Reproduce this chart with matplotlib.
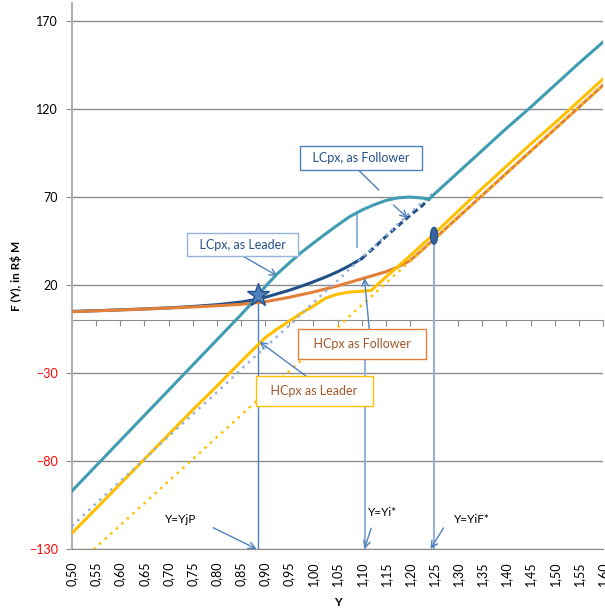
import matplotlib
matplotlib.use('Agg')
import matplotlib.pyplot as plt
from matplotlib.patches import Ellipse
from matplotlib.ticker import FuncFormatter

plt.rcParams['font.family'] = ['Lato', 'DejaVu Sans']

# Category ticks on the horizontal axis
y_ticks = [0.50, 0.55, 0.60, 0.65, 0.70, 0.75, 0.80, 0.85, 0.90, 0.95, 1.00, 1.05,
           1.10, 1.15, 1.20, 1.25, 1.30, 1.35, 1.40, 1.45, 1.50, 1.55, 1.60]

# Values
y_lc_leader = [0.50, 0.55, 0.60, 0.65, 0.70, 0.75, 0.80, 0.85, 0.875, 0.90, 0.925,
               0.95, 0.975, 1.00, 1.025, 1.05, 1.075, 1.10, 1.125, 1.15, 1.175,
               1.20, 1.225, 1.24, 1.25, 1.30, 1.35, 1.40, 1.45, 1.50, 1.55, 1.60]
lc_leader = [-97, -82.7, -68.4, -54.1, -39.8, -25.5, -11.2, 3.1, 10.5, 19, 26.3,
             32.5, 38.5, 43.8, 49, 54, 58.8, 62.5, 65.5, 68, 69.5,
             70, 69.4, 68.8, 71.5, 84, 96.5, 109, 121, 133.5, 146, 158]

y_lc_follower = [0.50, 0.55, 0.60, 0.65, 0.70, 0.75, 0.80, 0.85, 0.875, 0.90, 0.925,
                 0.95, 0.975, 1.00, 1.025, 1.05, 1.075, 1.10]
lc_follower = [5.0, 5.4, 5.9, 6.4, 7.0, 7.8, 8.8, 10.3, 11.5, 13.0, 15.0,
               17.0, 19.3, 21.8, 24.5, 27.5, 31.0, 35.0]
y_lc_follower_tail = [1.10, 1.125, 1.15, 1.175, 1.20, 1.225, 1.24]
lc_follower_tail = [35.0, 41.0, 47.5, 53.5, 59.5, 65.0, 68.8]

y_lc_npv = [0.50, 0.55, 0.60, 0.65, 0.70, 0.75, 0.80, 0.85, 0.90, 0.95, 1.00, 1.05,
            1.10, 1.15, 1.20, 1.25]
lc_npv = [-117, -104, -91.5, -79, -66, -53.5, -41, -28, -15.5, -3, 10, 22.5,
          35.5, 48, 61, 72.5]

hc_npv = [-142, -129, -116.5, -104, -91.5, -79, -66.5, -54, -41.5, -29, -16.5, -4,
          8.5, 21, 33.5, 46, 58.5, 71, 83.5, 96, 108.5, 121, 133.5]

y_hc_follower = [0.50, 0.55, 0.60, 0.65, 0.70, 0.75, 0.80, 0.85, 0.90, 0.95, 1.00,
                 1.05, 1.10, 1.15, 1.175, 1.20, 1.225, 1.25, 1.30, 1.35, 1.40, 1.45,
                 1.50, 1.55, 1.60]
hc_follower = [4.8, 5.3, 5.8, 6.3, 6.9, 7.5, 8.2, 9.0, 10.5, 13.0, 16.0,
               19.5, 23.5, 27.5, 30.2, 33.8, 39.8, 46, 58.5, 71, 83.5, 96,
               108.5, 121, 133.5]

y_hc_leader = [0.50, 0.55, 0.60, 0.65, 0.70, 0.75, 0.80, 0.85, 0.90, 0.925, 0.95,
               0.975, 1.00, 1.025, 1.05, 1.075, 1.10, 1.12, 1.15, 1.20, 1.25, 1.30,
               1.35, 1.40, 1.45, 1.50, 1.55, 1.60]
hc_leader = [-121, -107, -93, -79, -65, -51, -37.5, -23.5, -10, -5, -0.5,
             4, 8, 12.5, 14.8, 16, 16.4, 17, 24.5, 36.5, 49, 62,
             75, 87.5, 100, 112, 124.5, 137]

# Thresholds
yjp, yjp_val = 0.8845, 14.5
yi_star = 1.106
yif, yif_val = 1.25, 48

teal = '#3F9CB3'
navy = '#24508A'
light_blue = '#95B3D7'
orange = '#E2803A'
yellow = '#FFC000'
steel = '#4F81BD'
brown = '#A0582A'
grid_c = '#8C8C8C'

fig = plt.figure(figsize=(6.05, 6.09), dpi=100)
ax = fig.add_axes([72 / 605, 60 / 609, 531 / 605, 545.6 / 609])
ymin, ymax = -130, 180
ax.set_xlim(0.5, 1.6)
ax.set_ylim(ymin, ymax)

# Series
ax.plot(y_lc_follower, lc_follower, color=navy, lw=2.2, zorder=3)
ax.plot(y_lc_follower_tail, lc_follower_tail, color=navy, lw=2.2,
        ls=(0, (2, 1.2)), zorder=3)
ax.plot(y_hc_follower, hc_follower, color=orange, lw=2.2, zorder=4)
ax.plot(y_hc_leader, hc_leader, color=yellow, lw=2.2, zorder=5)
ax.plot(y_ticks, hc_npv, color=yellow, lw=1.8, ls=(0, (1, 2)), zorder=6)
ax.plot(y_lc_npv, lc_npv, color=light_blue, lw=1.8, ls=(0, (1, 2)), zorder=6)
ax.plot(y_lc_leader, lc_leader, color=teal, lw=2.2, zorder=7)

# Threshold lines and markers
ax.plot([yjp, yjp], [ymin, yjp_val], color=steel, lw=1, zorder=2)
ax.plot([yi_star, yi_star], [ymin, -21.5], color=light_blue, lw=1.5, zorder=2)
ax.plot([yif, yif], [ymin, yif_val], color=light_blue, lw=1.5, zorder=2)
ax.plot([1.0913, 1.0913], [41.8, 61.6], color=light_blue, lw=1.5, zorder=2)
ax.plot(yjp, yjp_val, marker='*', ms=17, mfc=steel, mec=navy, mew=1, zorder=9)
ax.add_patch(Ellipse((yif, yif_val), 0.0145, 9.5, fc='#3A62A0', ec=navy, lw=1, zorder=9))

# Callouts
arrow = dict(arrowstyle='->', color=steel, lw=1, mutation_scale=12, shrinkA=0, shrinkB=0)
ax.annotate('', xy=(1.1355, 74), xytext=(1.0919, 85.7),
            arrowprops=dict(arrowstyle='-', color=steel, lw=1, shrinkA=0, shrinkB=0))
ax.annotate('', xy=(1.1957, 57.9), xytext=(1.166, 65.5), arrowprops=arrow)
ax.annotate('', xy=(0.926, 25.1), xytext=(0.85, 37), arrowprops=arrow)
ax.annotate('', xy=(1.1058, 24), xytext=(1.116, -5.6), arrowprops=arrow, zorder=8)
ax.annotate('', xy=(0.888, -12.2), xytext=(0.988, -32.4), arrowprops=arrow, zorder=8)
ax.annotate('', xy=(0.8824, -130), xytext=(0.7925, -117.9), arrowprops=arrow)
ax.annotate('', xy=(1.1058, -130), xytext=(1.1197, -118.2), arrowprops=arrow)
ax.annotate('', xy=(1.2427, -130), xytext=(1.2697, -118), arrowprops=arrow)

ax.text(1.0985, 92.2, '  LCpx, as Follower  ', ha='center', va='center', fontsize=9,
        color=navy, zorder=10,
        bbox=dict(boxstyle='square,pad=0.45', fc='white', ec=steel, lw=1))
ax.text(0.8527, 43, '  LCpx, as Leader  ', ha='center', va='center', fontsize=9,
        color=navy, zorder=10,
        bbox=dict(boxstyle='square,pad=0.45', fc='white', ec=light_blue, lw=1))
ax.text(1.1006, -13.4, '  HCpx as Follower  ', ha='center', va='center', fontsize=9,
        color=brown, zorder=10,
        bbox=dict(boxstyle='square,pad=0.7', fc='white', ec=orange, lw=1))
ax.text(1.002, -40.2, '  HCpx as Leader  ', ha='center', va='center', fontsize=9,
        color=brown, zorder=10,
        bbox=dict(boxstyle='square,pad=0.7', fc='white', ec=yellow, lw=1))

ax.text(0.7255, -113.5, 'Y=YjP', ha='center', va='center', fontsize=8.5)
ax.text(1.143, -109.5, 'Y=Yi*', ha='center', va='center', fontsize=8.5)
ax.text(1.328, -113, 'Y=YiF*', ha='center', va='center', fontsize=8.5)

# Axes styling
ax.set_yticks([-130, -80, -30, 20, 70, 120, 170])
ax.yaxis.grid(True, color=grid_c, lw=1)
ax.set_axisbelow(True)
for lbl in ax.get_yticklabels():
    if lbl.get_text().startswith(('-', '\u2212')):
        lbl.set_color('red')
ax.tick_params(axis='y', labelsize=9, length=4, color=grid_c, pad=6)

ax.set_xticks(y_ticks)
ax.xaxis.set_major_formatter(FuncFormatter(lambda v, p: f'{v:.2f}'.replace('.', ',')))
ax.tick_params(axis='x', labelsize=9, length=0, pad=9, labelrotation=90)

for side in ['top', 'right']:
    ax.spines[side].set_visible(False)
ax.spines['left'].set_color('#B0B0B0')
ax.spines['left'].set_linewidth(1.5)
ax.spines['bottom'].set_color(grid_c)

# Horizontal axis line at zero with its tick marks
zero_ax = ax.secondary_xaxis((0 - ymin) / (ymax - ymin))
zero_ax.set_xticks(y_ticks)
zero_ax.tick_params(labelbottom=False, length=4, color=grid_c)
zero_ax.spines['bottom'].set_color(grid_c)

ax.set_xlabel('Y', fontsize=8.5, fontweight='bold', labelpad=8)
ax.set_ylabel('F (Y), in R$ M', fontsize=8.5, fontweight='bold', labelpad=5)

fig.savefig('out.png', dpi=100)
